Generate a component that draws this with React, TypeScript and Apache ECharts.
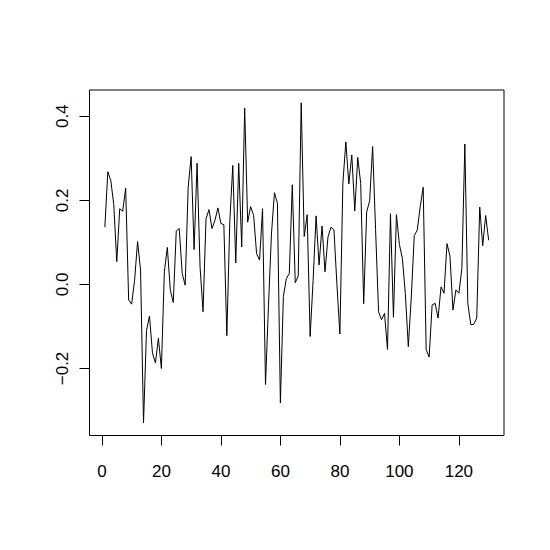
import React, { useEffect, useRef } from "react";
import * as echarts from "echarts";

// Series values, index 1..130
const values: number[] = [
  0.136, 0.268, 0.247, 0.19, 0.054, 0.18, 0.174, 0.229, -0.037, -0.047,
  0.01, 0.102, 0.034, -0.329, -0.11, -0.075, -0.163, -0.187, -0.128, -0.2,
  0.03, 0.088, -0.013, -0.043, 0.127, 0.133, 0.026, -0.002, 0.231, 0.304,
  0.083, 0.288, 0.042, -0.065, 0.156, 0.178, 0.133, 0.152, 0.182, 0.145,
  0.142, -0.122, 0.15, 0.283, 0.051, 0.288, 0.089, 0.419, 0.148, 0.185,
  0.164, 0.073, 0.058, 0.18, -0.238, -0.05, 0.12, 0.218, 0.193, -0.282,
  -0.029, 0.014, 0.026, 0.237, 0.004, 0.02, 0.432, 0.114, 0.166, -0.124,
  0.01, 0.163, 0.046, 0.139, 0.03, 0.113, 0.136, 0.13, 0.0, -0.118,
  0.24, 0.339, 0.239, 0.308, 0.175, 0.302, 0.24, -0.046, 0.172, 0.199,
  0.328, 0.13, -0.065, -0.084, -0.069, -0.155, 0.168, -0.078, 0.166, 0.095,
  0.062, -0.022, -0.148, -0.03, 0.116, 0.129, 0.185, 0.231, -0.155, -0.173,
  -0.049, -0.045, -0.08, -0.006, -0.021, 0.097, 0.067, -0.061, -0.013, -0.021,
  0.038, 0.334, -0.045, -0.096, -0.095, -0.08, 0.184, 0.092, 0.164, 0.105,
];

const xTicks: number[] = [0, 20, 40, 60, 80, 100, 120];
const yTicks: number[] = [-0.2, 0.0, 0.2, 0.4];

export default function App() {
  const ref = useRef<HTMLDivElement>(null);

  useEffect(() => {
    if (!ref.current) return;
    const chart = echarts.init(ref.current, null, { renderer: "svg" });

    const n = values.length;
    const xPad = 0.04 * (n - 1);
    const yMin = Math.min(...values);
    const yMax = Math.max(...values);
    const yPad = 0.04 * (yMax - yMin);

    const font = {
      color: "#000",
      fontFamily: "Liberation Sans, Arial, Helvetica, sans-serif",
      fontSize: 17,
    };

    chart.setOption({
      animation: false,
      backgroundColor: "#fff",
      grid: {
        left: 89.5,
        right: 46,
        top: 90,
        bottom: 114.5,
        show: true,
        borderColor: "#000",
        borderWidth: 1,
        backgroundColor: "transparent",
      },
      xAxis: {
        type: "value",
        position: "bottom",
        min: 1 - xPad,
        max: n + xPad,
        axisLine: { show: false, onZero: false },
        splitLine: { show: false },
        axisTick: {
          show: true,
          length: 10,
          inside: false,
          customValues: xTicks,
          lineStyle: { color: "#000", width: 1 },
        },
        axisLabel: {
          show: true,
          customValues: xTicks,
          margin: 27,
          formatter: (v: number) => String(v),
          ...font,
        },
      },
      yAxis: {
        type: "value",
        position: "left",
        min: yMin - yPad,
        max: yMax + yPad,
        axisLine: { show: false, onZero: false },
        splitLine: { show: false },
        axisTick: {
          show: true,
          length: 10,
          inside: false,
          customValues: yTicks,
          lineStyle: { color: "#000", width: 1 },
        },
        axisLabel: {
          show: true,
          customValues: yTicks,
          rotate: 90,
          margin: 19,
          formatter: (v: number) => {
            const s = Math.abs(v).toFixed(1);
            return v < -1e-9 ? "\u2212" + s : s;
          },
          ...font,
        },
      },
      series: [
        {
          type: "line",
          data: values.map((v, i) => [i + 1, v]),
          showSymbol: false,
          symbol: "none",
          lineStyle: { color: "#000", width: 1 },
          silent: true,
        },
      ],
    });

    return () => {
      chart.dispose();
    };
  }, []);

  return (
    <div
      ref={ref}
      style={{ position: "fixed", left: 0, top: 0, width: 550, height: 550, background: "#fff" }}
    />
  );
}
